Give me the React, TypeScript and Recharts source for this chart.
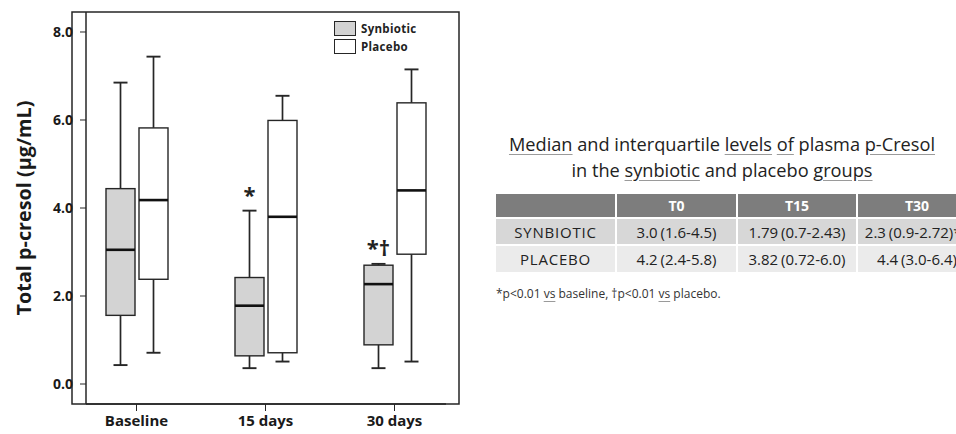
import React from "react";
import { BarChart, Bar, XAxis, YAxis, Legend, Label, ReferenceArea } from "recharts";

const groups = ["Baseline", "15 days", "30 days"];
const synMin = [0.43, 0.36, 0.36];
const synQ1 = [1.56, 0.64, 0.89];
const synMed = [3.05, 1.78, 2.27];
const synQ3 = [4.44, 2.42, 2.7];
const synMax = [6.85, 3.94, 2.73];
const synMarks = ["", "*", "*†"];
const plaMin = [0.71, 0.51, 0.51];
const plaQ1 = [2.38, 0.71, 2.95];
const plaMed = [4.18, 3.8, 4.4];
const plaQ3 = [5.82, 5.99, 6.39];
const plaMax = [7.44, 6.55, 7.15];
const yTicks = [0, 2, 4, 6, 8];
const yDomain = [-0.4545, 8.4545];

const tableTimes = ["T0", "T15", "T30"];
const tableGroups = ["SYNBIOTIC", "PLACEBO"];
const tableSyn = ["3.0 (1.6-4.5)", "1.79 (0.7-2.43)", "2.3 (0.9-2.72)*†"];
const tablePla = ["4.2 (2.4-5.8)", "3.82 (0.72-6.0)", "4.4 (3.0-6.4)"];

const data = groups.map((g, i) => ({
  group: g,
  syn: { min: synMin[i], q1: synQ1[i], med: synMed[i], q3: synQ3[i], max: synMax[i], mark: synMarks[i] },
  pla: { min: plaMin[i], q1: plaQ1[i], med: plaMed[i], q3: plaQ3[i], max: plaMax[i], mark: "" },
}));

const FONT = "'Open Sans', 'Noto Sans', sans-serif";
const INK = "#262626";
const SYN_FILL = "#d3d3d3";

// box + whiskers drawn inside the ranged bar [min, max] that recharts positions
const makeBox = (key: "syn" | "pla", fill: string) => (props: any) => {
  const { x, y, width, height, payload } = props;
  const s = payload[key];
  const top = Math.min(y, y + height);
  const bot = Math.max(y, y + height);
  const px = (v: number) => top + ((bot - top) * (s.max - v)) / (s.max - s.min);
  const cx = x + width / 2;
  const cap = 7;
  return (
    <g>
      <line x1={cx} x2={cx} y1={px(s.max)} y2={px(s.q3)} stroke={INK} strokeWidth={1.7} />
      <line x1={cx} x2={cx} y1={px(s.q1)} y2={px(s.min)} stroke={INK} strokeWidth={1.7} />
      <line x1={cx - cap} x2={cx + cap} y1={px(s.max)} y2={px(s.max)} stroke={INK} strokeWidth={1.9} />
      <line x1={cx - cap} x2={cx + cap} y1={px(s.min)} y2={px(s.min)} stroke={INK} strokeWidth={1.9} />
      <rect x={x} y={px(s.q3)} width={width} height={px(s.q1) - px(s.q3)} fill={fill} stroke={INK} strokeWidth={1.4} />
      <line x1={x} x2={x + width} y1={px(s.med)} y2={px(s.med)} stroke="#111" strokeWidth={2.6} />
      {s.mark ? (
        <text x={cx} y={px(s.max) - 8} textAnchor="middle" fontFamily={FONT} fontWeight={700} fontSize={22} fill="#222">
          {s.mark}
        </text>
      ) : null}
    </g>
  );
};

const legendItems = [
  { name: "Synbiotic", fill: SYN_FILL },
  { name: "Placebo", fill: "#ffffff" },
];

const renderLegend = () => (
  <div style={{ fontFamily: FONT }}>
    {legendItems.map(it => (
      <div key={it.name} style={{ display: "flex", alignItems: "center", height: 18 }}>
        <span style={{ width: 20, height: 13, background: it.fill, border: `1.5px solid ${INK}`, marginRight: 5 }} />
        <span style={{ fontSize: 11.5, fontWeight: 700, color: "#222", letterSpacing: 0.3 }}>{it.name}</span>
      </div>
    ))}
  </div>
);

const renderYLabel = (p: any) => {
  const vb = p.viewBox;
  const cx = vb.x + 23;
  const cy = vb.y + vb.height / 2;
  return (
    <text x={cx} y={cy} transform={`rotate(-90 ${cx} ${cy})`} textAnchor="middle" dominantBaseline="central"
      fontFamily={FONT} fontWeight={700} fontSize={19.8} fill="#1a1a1a">
      Total p-cresol (µg/mL)
    </text>
  );
};

const u: React.CSSProperties = { textDecoration: "underline", textDecorationColor: "#9a9a9a", textUnderlineOffset: 3 };
const cell: React.CSSProperties = { border: "2px solid #fff", textAlign: "center", padding: 0, whiteSpace: "nowrap", wordSpacing: -1 };

export default function App() {
  return (
    <div style={{ position: "absolute", left: 0, top: 0, width: 956, height: 434, overflow: "hidden", background: "#fff", fontFamily: FONT }}>
      <BarChart width={470} height={434} data={data} barSize={29} barGap={4}
        margin={{ top: 12, right: 24, bottom: 0, left: 0 }}>
        <XAxis dataKey="group" height={30} padding={{ left: -14, right: -13 }}
          axisLine={{ stroke: INK, strokeWidth: 1.5 }} tickLine={{ stroke: INK }} tickSize={7} tickMargin={4}
          tick={{ fontSize: 15, fontWeight: 700, fill: "#1a1a1a", fontFamily: FONT }} />
        <YAxis width={86} domain={yDomain} ticks={yTicks} allowDataOverflow
          tickFormatter={(v: number) => v.toFixed(1)} axisLine={{ stroke: INK, strokeWidth: 1.5 }}
          tickLine={{ stroke: INK }} tickSize={6} tickMargin={7}
          tick={{ fontSize: 14, fontWeight: 700, fill: "#1a1a1a", fontFamily: FONT }}>
          <Label content={renderYLabel} />
        </YAxis>
        <ReferenceArea y1={yDomain[0]} y2={yDomain[1]} fill="none" fillOpacity={0} stroke={INK} strokeWidth={1.5} ifOverflow="visible" />
        <Legend layout="vertical" align="center" verticalAlign="middle" content={renderLegend}
          wrapperStyle={{ position: "absolute", left: 334, top: 19, width: 110 }} />
        <Bar dataKey={(d: any) => [d.syn.min, d.syn.max]} shape={makeBox("syn", SYN_FILL)} isAnimationActive={false} />
        <Bar dataKey={(d: any) => [d.pla.min, d.pla.max]} shape={makeBox("pla", "#ffffff")} isAnimationActive={false} />
      </BarChart>

      <div style={{ position: "absolute", left: 480, top: 131, width: 484, textAlign: "center", fontSize: 18.2, lineHeight: "26px", color: "#222" }}>
        <div><span style={u}>Median</span> and interquartile <span style={u}>levels</span> <span style={u}>of</span> plasma <span style={u}>p-Cresol</span></div>
        <div>in the <span style={u}>synbiotic</span> and placebo <span style={u}>groups</span></div>
      </div>

      <table style={{ position: "absolute", left: 494, top: 192, width: 474, tableLayout: "fixed", borderCollapse: "collapse", fontSize: 15, color: "#222" }}>
        <tbody>
          <tr style={{ background: "#7d7d7d", height: 25 }}>
            <td style={{ ...cell, width: 119 }} />
            <td style={{ ...cell, width: 119, color: "#fff", fontWeight: 700, fontSize: 14 }}>{tableTimes[0]}</td>
            <td style={{ ...cell, width: 118, color: "#fff", fontWeight: 700, fontSize: 14 }}>{tableTimes[1]}</td>
            <td style={{ ...cell, width: 118, color: "#fff", fontWeight: 700, fontSize: 14 }}>{tableTimes[2]}</td>
          </tr>
          <tr style={{ background: "#d7d7d7", height: 27 }}>
            <td style={{ ...cell, letterSpacing: 0.8 }}>{tableGroups[0]}</td>
            {tableSyn.map((v, i) => <td key={i} style={cell}>{v}</td>)}
          </tr>
          <tr style={{ background: "#ebebeb", height: 28 }}>
            <td style={{ ...cell, letterSpacing: 0.8 }}>{tableGroups[1]}</td>
            {tablePla.map((v, i) => <td key={i} style={cell}>{v}</td>)}
          </tr>
        </tbody>
      </table>

      <div style={{ position: "absolute", left: 496, top: 285, fontSize: 12, color: "#333" }}>
        *p&lt;0.01 <span style={u}>vs</span> baseline, †p&lt;0.01 <span style={u}>vs</span> placebo.
      </div>
    </div>
  );
}
